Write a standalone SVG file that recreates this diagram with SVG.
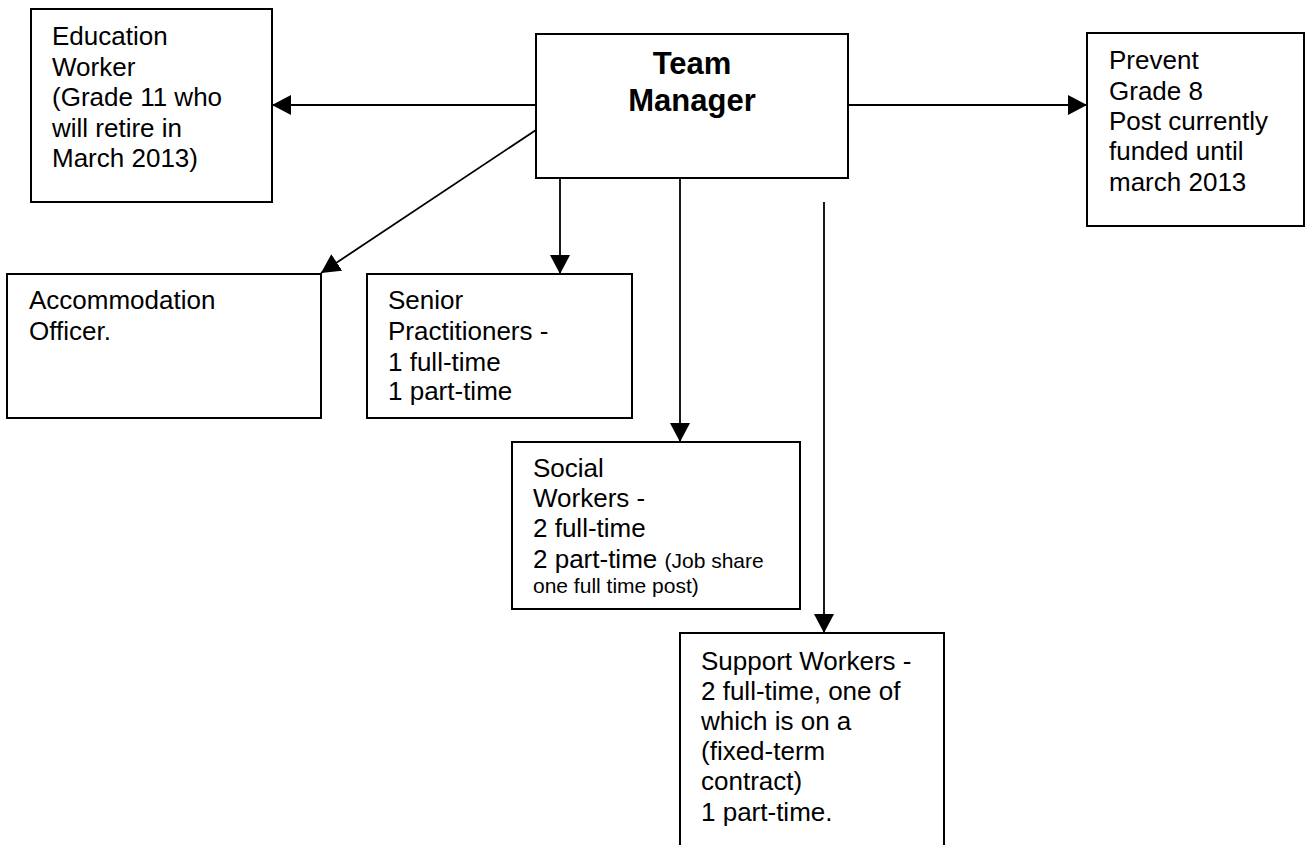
<svg xmlns="http://www.w3.org/2000/svg" width="1305" height="845" viewBox="0 0 1305 845">
<style>
.box{fill:#fff;stroke:#000;stroke-width:2}
.t{font-family:"Liberation Sans",Arial,sans-serif;font-size:26px;fill:#000}
.s{font-size:21px}
.b{font-family:"Liberation Sans",Arial,sans-serif;font-size:31px;font-weight:bold;fill:#000;text-anchor:middle}
.c{stroke:#000;stroke-width:1.8;fill:none;marker-end:url(#ah)}
</style>
<defs>
<marker id="ah" markerUnits="userSpaceOnUse" markerWidth="19" markerHeight="20" refX="19" refY="10" orient="auto" viewBox="0 0 19 20">
<path d="M0,0 L19,10 L0,20 z" fill="#000"/>
</marker>
</defs>
<rect width="1305" height="845" fill="#fff"/>
<g id="connectors">
<line class="c" x1="536" y1="105" x2="272" y2="105"/>
<line class="c" x1="848" y1="105" x2="1087" y2="105"/>
<line class="c" x1="536" y1="130" x2="321" y2="273"/>
<line class="c" x1="560" y1="178" x2="560" y2="274"/>
<line class="c" x1="680" y1="178" x2="680" y2="442"/>
<line class="c" x1="824" y1="202" x2="824" y2="633"/>
</g>
<g id="team-manager">
<rect class="box" x="536" y="34" width="312" height="144"/>
<text class="b"><tspan x="692" y="74">Team</tspan><tspan x="692" y="111">Manager</tspan></text>
</g>
<g id="education-worker">
<rect class="box" x="31" y="9" width="241" height="193"/>
<text class="t"><tspan x="52" y="45">Education</tspan><tspan x="52" y="76">Worker</tspan><tspan x="52" y="106">(Grade 11 who</tspan><tspan x="52" y="137">will retire in</tspan><tspan x="52" y="167">March 2013)</tspan></text>
</g>
<g id="prevent">
<rect class="box" x="1087" y="33" width="217" height="193"/>
<text class="t"><tspan x="1109" y="69">Prevent</tspan><tspan x="1109" y="100">Grade 8</tspan><tspan x="1109" y="130">Post currently</tspan><tspan x="1109" y="160">funded until</tspan><tspan x="1109" y="191">march 2013</tspan></text>
</g>
<g id="accommodation-officer">
<rect class="box" x="7" y="274" width="314" height="144"/>
<text class="t"><tspan x="29" y="309">Accommodation</tspan><tspan x="29" y="340">Officer.</tspan></text>
</g>
<g id="senior-practitioners">
<rect class="box" x="367" y="274" width="265" height="144"/>
<text class="t"><tspan x="388" y="309">Senior</tspan><tspan x="388" y="340">Practitioners -</tspan><tspan x="388" y="371">1 full-time</tspan><tspan x="388" y="400">1 part-time</tspan></text>
</g>
<g id="social-workers">
<rect class="box" x="512" y="442" width="288" height="167"/>
<text class="t"><tspan x="533" y="477">Social</tspan><tspan x="533" y="507">Workers -</tspan><tspan x="533" y="537">2 full-time</tspan><tspan x="533" y="568">2 part-time <tspan class="s">(Job share</tspan></tspan><tspan class="s" x="533" y="593">one full time post)</tspan></text>
</g>
<g id="support-workers">
<path class="box" d="M680,846 V633 H944 V846" fill="#fff"/>
<text class="t"><tspan x="701" y="670">Support Workers -</tspan><tspan x="701" y="700">2 full-time, one of</tspan><tspan x="701" y="730">which is on a</tspan><tspan x="701" y="760">(fixed-term</tspan><tspan x="701" y="790">contract)</tspan><tspan x="701" y="821">1 part-time.</tspan></text>
</g>
</svg>
